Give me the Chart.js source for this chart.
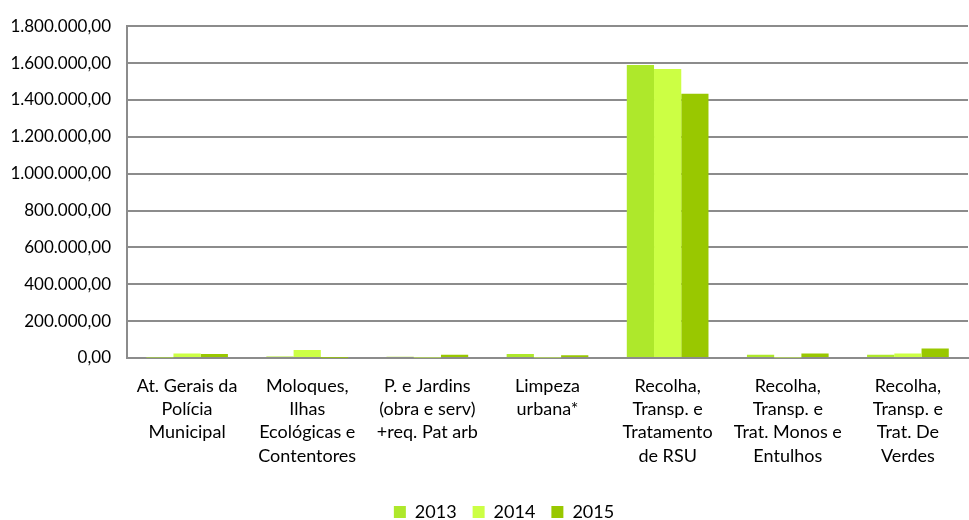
<!DOCTYPE html>
<html>
<head>
<meta charset="utf-8">
<script src="https://cdn.jsdelivr.net/npm/chart.js@4.4.1/dist/chart.umd.min.js"></script>
<style>
  html, body { margin: 0; padding: 0; background: #ffffff; }
  #wrap { width: 969px; height: 520px; position: relative; }
</style>
</head>
<body>
<div id="wrap"><canvas id="c" width="969" height="520"></canvas></div>
<script>
const categories = [
  ["At. Gerais da", "Polícia", "Municipal"],
  ["Moloques,", "Ilhas", "Ecológicas e", "Contentores"],
  ["P. e Jardins", "(obra e serv)", "+req. Pat arb"],
  ["Limpeza", "urbana*"],
  ["Recolha,", "Transp. e", "Tratamento", "de RSU"],
  ["Recolha,", "Transp. e", "Trat. Monos e", "Entulhos"],
  ["Recolha,", "Transp. e", "Trat. De", "Verdes"]
];
const seriesNames = ["2013", "2014", "2015"];
const values2013 = [3000, 8000, 7000, 22000, 1590000, 18000, 18000];
const values2014 = [25000, 43000, 3000, 3000, 1568000, 3000, 25000];
const values2015 = [22000, 2000, 17000, 15000, 1433000, 25000, 52000];
const yTicks = [0, 200000, 400000, 600000, 800000, 1000000, 1200000, 1400000, 1600000, 1800000];

const colors = ["#aee82b", "#ccff44", "#99c800"];

function fmt(v) {
  const s = Math.round(v).toString().replace(/\B(?=(\d{3})+(?!\d))/g, ".");
  return s + ",00";
}

const FONT = "'Lato', 'Open Sans', 'Liberation Sans', sans-serif";

const legendShift = {
  id: 'legendShift',
  afterLayout(chart) {
    if (chart.legend) { chart.legend.left += 20; chart.legend.right += 20; }
  }
};

new Chart(document.getElementById('c'), {
  type: 'bar',
  data: {
    labels: categories,
    datasets: [
      { label: seriesNames[0], data: values2013, backgroundColor: colors[0] },
      { label: seriesNames[1], data: values2014, backgroundColor: colors[1] },
      { label: seriesNames[2], data: values2015, backgroundColor: colors[2] }
    ]
  },
  plugins: [legendShift],
  options: {
    responsive: false,
    animation: false,
    devicePixelRatio: 1,
    layout: { padding: { top: 24, right: 1, left: 0, bottom: -11 } },
    datasets: { bar: { categoryPercentage: 0.68, barPercentage: 1.0 } },
    plugins: {
      legend: {
        position: 'bottom',
        labels: {
          boxWidth: 12, boxHeight: 12, padding: 16,
          color: '#000', font: { family: FONT, size: 18 }
        }
      },
      tooltip: { enabled: false }
    },
    scales: {
      x: {
        grid: { display: false, drawTicks: false },
        border: { display: true, color: '#8c8c8c', width: 2 },
        ticks: { color: '#000', font: { family: FONT, size: 18, lineHeight: 1.3 }, maxRotation: 0, autoSkip: false, padding: 16 },
        afterFit: (s) => { s.height = 129; }
      },
      y: {
        min: 0, max: 1800000,
        afterBuildTicks: (s) => { s.ticks = yTicks.map(v => ({ value: v })); },
        grid: { color: '#8c8c8c', lineWidth: 2, drawTicks: false },
        border: { display: true, color: '#8c8c8c', width: 2 },
        ticks: { color: '#000', font: { family: FONT, size: 17 }, padding: 16, callback: (v) => fmt(v) },
        afterFit: (s) => { s.width = 127; }
      }
    }
  }
});
</script>
</body>
</html>
